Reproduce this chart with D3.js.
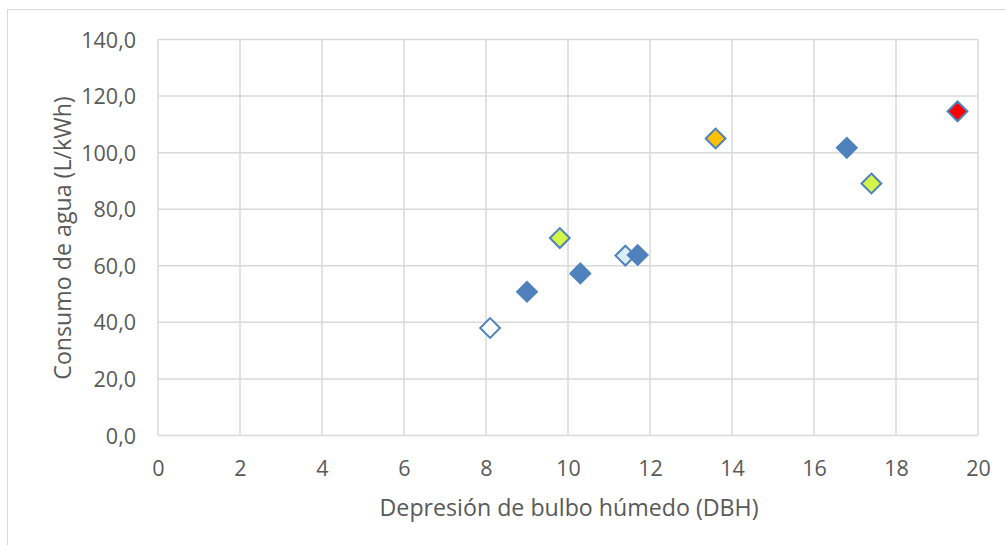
<!DOCTYPE html>
<html><head><meta charset="utf-8">
<script src="https://cdn.jsdelivr.net/npm/d3@7"></script>
<style>body{margin:0;background:#fff;} text{font-family:"Open Sans",sans-serif;}</style>
</head><body>
<svg id="c" width="1006" height="545"></svg>
<script>
const xValues = [8.1, 9.0, 9.8, 10.3, 11.4, 11.7, 13.6, 16.8, 17.4, 19.5];
const yValues = [38.0, 50.8, 69.8, 57.3, 63.6, 63.8, 105.0, 101.7, 89.1, 114.6];
const fills = ["#ffffff", "#4f81bd", "#d4f548", "#4f81bd", "#daeef3", "#4f81bd", "#ffc000", "#4f81bd", "#d4f548", "#ff0000"];
const xTicks = [0, 2, 4, 6, 8, 10, 12, 14, 16, 18, 20];
const yTicks = [0, 20, 40, 60, 80, 100, 120, 140];
const xTitle = "Depresión de bulbo húmedo (DBH)";
const yTitle = "Consumo de agua (L/kWh)";

const svg = d3.select("#c");
const L = 158, R = 978, T = 39.5, B = 435.5;
const x = d3.scaleLinear().domain([0, 20]).range([L, R]);
const y = d3.scaleLinear().domain([0, 140]).range([B, T]);

svg.append("rect").attr("x", 7.5).attr("y", 9.5).attr("width", 1010).attr("height", 560)
  .attr("fill", "none").attr("stroke", "#d9d9d9").attr("stroke-width", 1);

const grid = svg.append("g");
grid.selectAll(".gx").data(xTicks).enter().append("line")
  .attr("x1", d => x(d)).attr("x2", d => x(d)).attr("y1", T).attr("y2", B)
  .attr("stroke", "#d9d9d9").attr("stroke-width", 1.5);
grid.selectAll(".gy").data(yTicks).enter().append("line")
  .attr("x1", L).attr("x2", R).attr("y1", d => y(d)).attr("y2", d => y(d))
  .attr("stroke", "#d9d9d9").attr("stroke-width", 1.5);

const fmt = d => d3.format(".1f")(d).replace(".", ",");
const yAxis = d3.axisLeft(y).tickValues(yTicks).tickFormat(fmt).tickSize(0).tickPadding(22);
const gy = svg.append("g").attr("transform", `translate(${L},0)`).call(yAxis);
gy.select(".domain").remove();
gy.selectAll("text").attr("fill", "#595959").style("font-size", "21.5px").style("font-family", "'Open Sans'").attr("dy", "0.35em");

const xAxis = d3.axisBottom(x).tickValues(xTicks).tickFormat(d3.format("d")).tickSize(0);
const gx = svg.append("g").attr("transform", `translate(0,${B})`).call(xAxis);
gx.select(".domain").remove();
gx.selectAll("text").attr("fill", "#595959").style("font-size", "21.5px").style("font-family", "'Open Sans'").attr("dy", null).attr("y", 40.5);

svg.append("text").attr("x", 569).attr("y", 516).attr("text-anchor", "middle")
  .attr("fill", "#595959").style("font-size", "23.2px").text(xTitle);
svg.append("text").attr("transform", `translate(71,238) rotate(-90)`).attr("text-anchor", "middle")
  .attr("fill", "#595959").style("font-size", "23.2px").text(yTitle);

const sym = d3.symbol().type(d3.symbolDiamond2).size(250);
svg.append("g").selectAll("path").data(xValues).enter().append("path")
  .attr("d", sym)
  .attr("transform", (d, i) => `translate(${x(d)},${y(yValues[i])})`)
  .attr("fill", (d, i) => fills[i])
  .attr("stroke", "#4f81bd").attr("stroke-width", 2);
</script>
</body></html>
